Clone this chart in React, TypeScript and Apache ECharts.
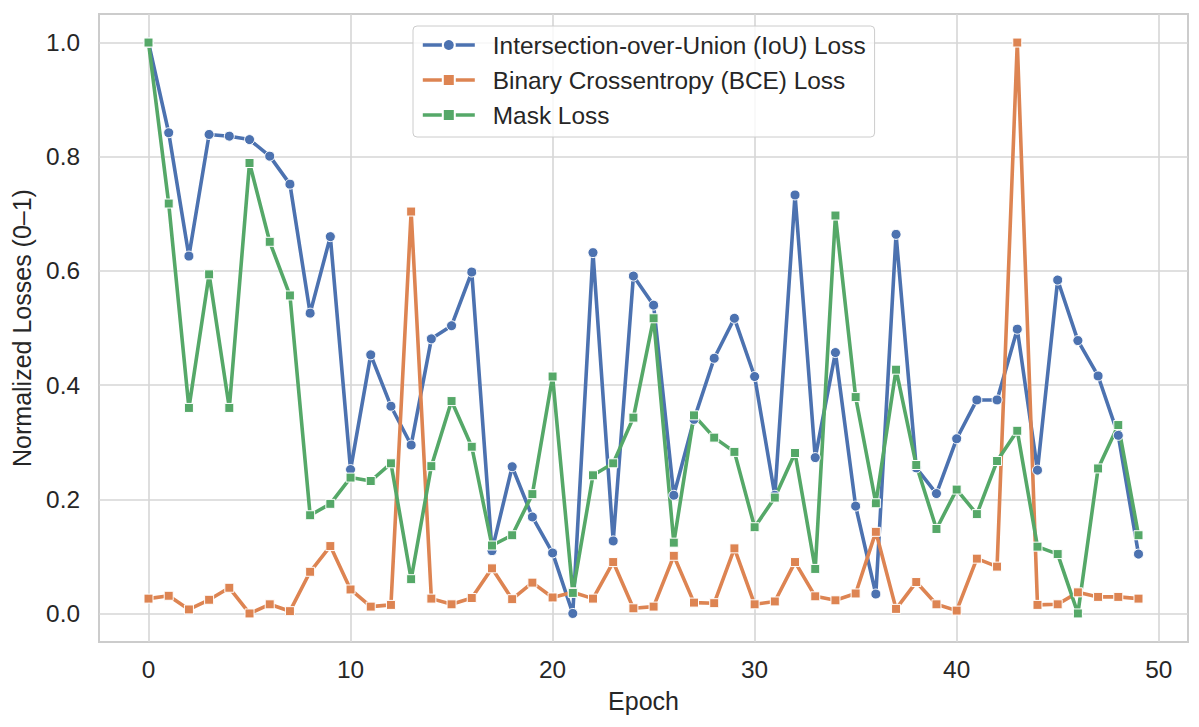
import React from 'react';
import * as echarts from 'echarts';

const epochs = Array.from({ length: 50 }, (_, i) => i);

const iouLoss = [
  1.0, 0.842, 0.626, 0.839, 0.836, 0.83, 0.801, 0.752, 0.526, 0.66,
  0.252, 0.453, 0.363, 0.295, 0.481, 0.504, 0.598, 0.11, 0.257, 0.169,
  0.106, 0.0, 0.632, 0.127, 0.591, 0.54, 0.207, 0.34, 0.447, 0.517,
  0.415, 0.207, 0.733, 0.273, 0.457, 0.188, 0.034, 0.664, 0.255, 0.21,
  0.306, 0.374, 0.374, 0.498, 0.251, 0.584, 0.478, 0.416, 0.312, 0.104,
];

const bceLoss = [
  0.026, 0.031, 0.007, 0.024, 0.045, 0.0, 0.016, 0.004, 0.073, 0.118,
  0.042, 0.012, 0.015, 0.704, 0.026, 0.016, 0.027, 0.079, 0.025, 0.054,
  0.028, 0.037, 0.026, 0.09, 0.009, 0.012, 0.101, 0.019, 0.018, 0.114,
  0.016, 0.021, 0.09, 0.03, 0.023, 0.035, 0.143, 0.008, 0.055, 0.016,
  0.005, 0.096, 0.082, 1.0, 0.015, 0.016, 0.037, 0.029, 0.029, 0.026,
];

const maskLoss = [
  1.0, 0.718, 0.36, 0.594, 0.36, 0.789, 0.651, 0.557, 0.172, 0.192,
  0.238, 0.232, 0.263, 0.06, 0.258, 0.372, 0.292, 0.119, 0.137, 0.209,
  0.415, 0.036, 0.242, 0.263, 0.343, 0.517, 0.124, 0.347, 0.308, 0.283,
  0.151, 0.203, 0.281, 0.078, 0.697, 0.379, 0.193, 0.427, 0.26, 0.148,
  0.217, 0.174, 0.267, 0.32, 0.117, 0.104, 0.0, 0.254, 0.33, 0.137,
];

const xTicks = [0, 10, 20, 30, 40, 50];
const yTicks = [0, 0.2, 0.4, 0.6, 0.8, 1.0];

const TEXT = '#262626';
const FONT = '"Liberation Sans", Arial, sans-serif';

const App: React.FC = () => {
  const chartRef = React.useRef<HTMLDivElement>(null);

  React.useEffect(() => {
    if (!chartRef.current) return;
    const chart = echarts.init(chartRef.current, undefined, { renderer: 'svg' });

    const makeSeries = (name: string, values: number[], color: string, symbol: string, size: number) => ({
      name,
      type: 'line',
      data: epochs.map((e, i) => [e, values[i]]),
      symbol,
      symbolSize: size,
      showAllSymbol: true,
      lineStyle: { color, width: 3.6 },
      itemStyle: { color, borderColor: '#ffffff', borderWidth: 1 },
      emphasis: { disabled: true },
    });

    chart.setOption({
      animation: false,
      textStyle: { fontFamily: FONT, color: TEXT },
      grid: {
        left: 99,
        top: 14,
        right: 11,
        bottom: 85,
        show: true,
        borderColor: '#cccccc',
        borderWidth: 2,
        backgroundColor: '#ffffff',
      },
      legend: {
        orient: 'vertical',
        left: 413,
        top: 26,
        padding: [7, 9, 10, 8],
        itemWidth: 52,
        itemHeight: 15,
        itemGap: 11,
        backgroundColor: 'rgba(255,255,255,0.8)',
        borderColor: '#cccccc',
        borderWidth: 1,
        borderRadius: 4,
        lineStyle: { width: 3.6 },
        textStyle: {
          fontSize: 24.4,
          color: TEXT,
          fontFamily: FONT,
          lineHeight: 24,
          padding: [0, 0, 0, 13],
        },
        data: [
          'Intersection-over-Union (IoU) Loss',
          'Binary Crossentropy (BCE) Loss',
          'Mask Loss',
        ],
      },
      xAxis: {
        type: 'value',
        min: -2.45,
        max: 51.45,
        name: 'Epoch',
        nameLocation: 'middle',
        nameGap: 46,
        nameTextStyle: { fontSize: 25, color: TEXT, fontFamily: FONT },
        axisLine: { show: false },
        axisTick: { show: false, customValues: xTicks },
        axisLabel: {
          customValues: xTicks,
          fontSize: 24.4,
          color: TEXT,
          fontFamily: FONT,
          margin: 15,
        },
        splitLine: { show: true, lineStyle: { color: '#d6d6d6', width: 1.6 } },
      },
      yAxis: {
        type: 'value',
        min: -0.05,
        max: 1.05,
        name: 'Normalized Losses (0–1)',
        nameLocation: 'middle',
        nameGap: 65,
        nameTextStyle: { fontSize: 25, color: TEXT, fontFamily: FONT },
        axisLine: { show: false },
        axisTick: { show: false, customValues: yTicks },
        axisLabel: {
          customValues: yTicks,
          fontSize: 24.4,
          color: TEXT,
          fontFamily: FONT,
          margin: 19,
          formatter: (v: number) => v.toFixed(1),
        },
        splitLine: { show: true, lineStyle: { color: '#d6d6d6', width: 1.6 } },
      },
      series: [
        makeSeries('Intersection-over-Union (IoU) Loss', iouLoss, '#4c72b0', 'circle', 10),
        makeSeries('Binary Crossentropy (BCE) Loss', bceLoss, '#dd8452', 'rect', 9),
        makeSeries('Mask Loss', maskLoss, '#55a868', 'rect', 9),
      ],
    });

    return () => {
      chart.dispose();
    };
  }, []);

  return (
    <div
      ref={chartRef}
      style={{ position: 'fixed', left: 0, top: 0, width: '1199px', height: '727px', background: '#ffffff' }}
    />
  );
};

export default App;
